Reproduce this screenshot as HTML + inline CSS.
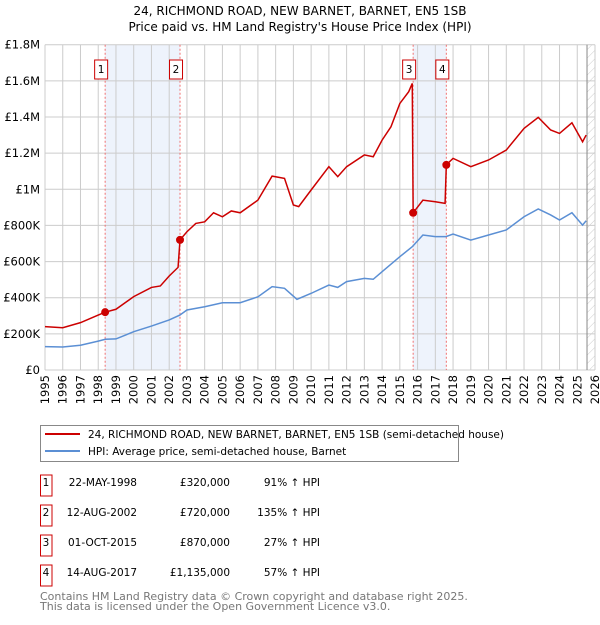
<!DOCTYPE html>
<html><head><meta charset="utf-8"><style>
body{margin:0;background:#fff;font-family:"Liberation Sans","DejaVu Sans",sans-serif;}
svg text{font-family:"DejaVu Sans","Liberation Sans",sans-serif;}
</style></head><body>
<svg id="c" width="600" height="620" xmlns="http://www.w3.org/2000/svg">
<defs><pattern id="h" width="6" height="6" patternUnits="userSpaceOnUse" patternTransform="rotate(45)"><line x1="0" y1="0" x2="0" y2="6" stroke="#ccc" stroke-width="1"/></pattern></defs>
<text x="300" y="15" text-anchor="middle" font-size="12" fill="#000">24, RICHMOND ROAD, NEW BARNET, BARNET, EN5 1SB</text>
<text x="300" y="31" text-anchor="middle" font-size="12" fill="#000">Price paid vs. HM Land Registry's House Price Index (HPI)</text>
<g id="plot"></g>
<g>
<rect x="40.5" y="425.5" width="418" height="36" fill="#fff" stroke="#888"/>
<line x1="45" y1="434" x2="80" y2="434" stroke="#cc0000" stroke-width="2"/>
<text x="88" y="438" font-size="10.5">24, RICHMOND ROAD, NEW BARNET, BARNET, EN5 1SB (semi-detached house)</text>
<line x1="45" y1="451" x2="80" y2="451" stroke="#5b8fd4" stroke-width="2"/>
<text x="88" y="455" font-size="10.5">HPI: Average price, semi-detached house, Barnet</text>
</g>
<g id="tbl" font-size="10.5"></g>
<text x="40" y="600" font-size="11" fill="#777">Contains HM Land Registry data © Crown copyright and database right 2025.</text>
<text x="40" y="610" font-size="11" fill="#777">This data is licensed under the Open Government Licence v3.0.</text>
</svg>
<script>
const hpiYears=[1995,1996,1997,1998,1998.4,1999,2000,2001,2002,2002.6,2003,2004,2005,2006,2007,2007.8,2008.5,2009.2,2010,2011,2011.5,2012,2013,2013.5,2014,2015,2015.7,2016.3,2017,2017.6,2018,2019,2020,2021,2022,2022.8,2023.5,2024,2024.7,2025.3,2025.5];
const hpiValues=[129,127,137,160,170,172,212,243,277,304,332,350,372,372,405,461,452,391,424,470,457,489,507,502,544,627,682,747,738,738,752,719,747,775,848,891,858,830,870,802,826];
const priceYears=[1995,1996,1997,1998,1998.39,1999,2000,2001,2001.5,2002,2002.5,2002.61,2003,2003.5,2004,2004.5,2005,2005.5,2006,2007,2007.8,2008.5,2009,2009.3,2010,2011,2011.5,2012,2013,2013.5,2014,2014.5,2015,2015.5,2015.7,2015.75,2016.3,2017,2017.55,2017.62,2018,2019,2020,2021,2022,2022.8,2023.5,2024,2024.7,2025.3,2025.5];
const priceValues=[240,234,262,304,320,336,406,457,465,520,568,720,765,811,820,870,848,880,870,940,1073,1060,913,904,996,1125,1070,1125,1190,1180,1272,1346,1475,1540,1586,870,940,931,922,1135,1171,1125,1162,1217,1337,1398,1328,1309,1368,1263,1300];
const saleLabels=["1","2","3","4"];
const saleYears=[1998.39,2002.61,2015.75,2017.62];
const saleValues=[320,720,870,1135];
const saleDates=["22-MAY-1998","12-AUG-2002","01-OCT-2015","14-AUG-2017"];
const salePrices=["£320,000","£720,000","£870,000","£1,135,000"];
const salePct=["91% \u2191 HPI","135% \u2191 HPI","27% \u2191 HPI","57% \u2191 HPI"];
const bands=[[1998.39,2002.61],[2015.75,2017.62]];
const yTicks=[0,200,400,600,800,1000,1200,1400,1600,1800];
const yTickLabels=["£0","£200K","£400K","£600K","£800K","£1M","£1.2M","£1.4M","£1.6M","£1.8M"];
const xTicks=[];for(let y=1995;y<=2026;y++)xTicks.push(y);

const NS="http://www.w3.org/2000/svg";
const X0=45,X1=595,Y0=370,Y1=44.7;
const xs=v=>X0+(v-1995)/31*(X1-X0);
const ys=v=>Y0-v/1800*(Y0-Y1);
const g=document.getElementById('plot');
function mk(t,a,p){const e=document.createElementNS(NS,t);for(const k in a)e.setAttribute(k,a[k]);(p||g).appendChild(e);return e;}
let e;
e=mk('rect',{x:X0,y:Y1,width:X1-X0,height:Y0-Y1,fill:'#fff'});


bands.forEach(b=>{e=mk('rect',{x:xs(b[0]),y:Y1,width:xs(b[1])-xs(b[0]),height:Y0-Y1,fill:'#eef3fc'});

});
e=mk('rect',{x:xs(2025.55),y:Y1,width:X1-xs(2025.55),height:Y0-Y1,fill:'url(#h)'});


yTicks.forEach((t,i)=>{e=mk('line',{x1:X0,x2:X1,y1:ys(t),y2:ys(t),stroke:'#ccc'});


e=mk('text',{x:X0-5,y:ys(t)+4,'text-anchor':'end','font-size':'11.5'});e.textContent=yTickLabels[i];

});
xTicks.forEach(t=>{e=mk('line',{x1:xs(t),x2:xs(t),y1:Y1,y2:Y0,stroke:'#ccc'});


e=mk('text',{x:0,y:0,'font-size':'11.5','text-anchor':'end',transform:`translate(${xs(t)+4},${Y0+5}) rotate(-90)`});e.textContent=t;

});
e=mk('line',{x1:xs(2025.55),x2:xs(2025.55),y1:Y1,y2:Y0,stroke:'#888'});


saleYears.forEach(s=>{e=mk('line',{x1:xs(s),x2:xs(s),y1:Y1,y2:Y0,stroke:'#f07070','stroke-dasharray':'2,2'});

});
e=mk('polyline',{points:hpiYears.map((y,i)=>xs(y)+','+ys(hpiValues[i])).join(' '),fill:'none',stroke:'#5b8fd4','stroke-width':1.5});


e=mk('polyline',{points:priceYears.map((y,i)=>xs(y)+','+ys(priceValues[i])).join(' '),fill:'none',stroke:'#cc0000','stroke-width':1.5});


saleYears.forEach((s,i)=>{e=mk('circle',{cx:xs(s),cy:ys(saleValues[i]),r:4,fill:'#cc0000'});


const bx=xs(s)-4;
e=mk('rect',{x:bx-6.5,y:60,width:13,height:19,fill:'#fff',stroke:'#cc0000'});


e=mk('text',{x:bx,y:73,'text-anchor':'middle','font-size':'10.5'});e.textContent=saleLabels[i];

});
const tb=document.getElementById('tbl');
saleLabels.forEach((l,i)=>{const cy=483+i*30;
e=mk('rect',{x:40.5,y:cy-8,width:11.5,height:21,fill:'#fff',stroke:'#cc0000'},tb);


e=mk('text',{x:46,y:cy+3,'text-anchor':'middle'},tb);e.textContent=l;


e=mk('text',{x:137,y:cy+3,'text-anchor':'end'},tb);e.textContent=saleDates[i];


e=mk('text',{x:230,y:cy+3,'text-anchor':'end'},tb);e.textContent=salePrices[i];


e=mk('text',{x:320,y:cy+3,'text-anchor':'end'},tb);e.textContent=salePct[i];

});
</script>
</body></html>
